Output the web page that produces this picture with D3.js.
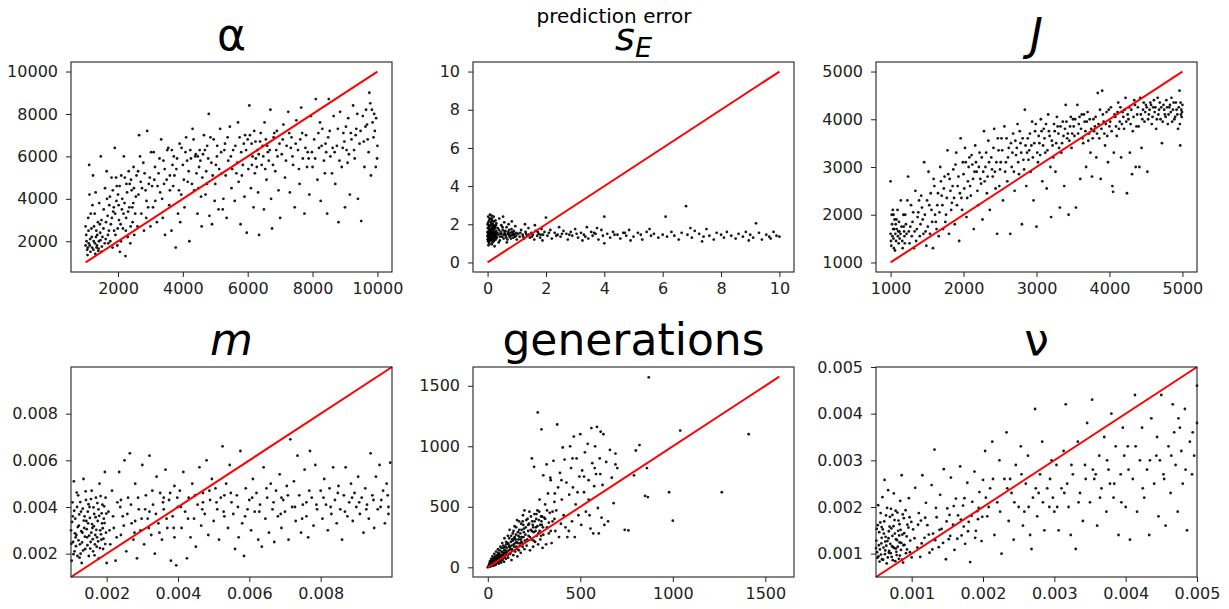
<!DOCTYPE html>
<html>
<head>
<meta charset="utf-8">
<script src="https://cdn.jsdelivr.net/npm/d3@7"></script>
<style>
  body { margin: 0; background: #fff; }
  svg { display: block; font-family: "DejaVu Sans", sans-serif; }
</style>
</head>
<body>
<div id="chart"></div>
<script>
// true value vs predicted value
const alphaPts = [
  [1000,1800],[1020,2300],[1050,1600],[1080,3100],[1100,1900],[1120,4200],[1150,1500],[1180,2600],[1200,1700],[1230,5100],
  [1250,2000],[1280,3300],[1300,1400],[1320,2200],[1350,1800],[1380,2900],[1400,1650],[1420,3800],[1450,2400],[1470,6000],
  [1500,1750],[1000,2700],[1060,1350],[1140,2100],[1210,3700],[1330,2500],[1460,2050],[1110,5600],[1390,1550],[1490,3000],
  [1550,2600],[1600,4500],[1620,2100],[1680,3200],[1700,1900],[1750,4100],[1780,2800],[1800,5000],[1830,1700],[1870,3600],
  [1900,6400],[1920,2300],[1950,3900],[1980,1800],[2000,4200],[2030,3000],[2060,1500],[2100,5100],[2120,3500],[2150,2600],
  [2180,6000],[2200,3800],[2230,1300],[2260,4700],[2300,2200],[2330,5300],[2350,3600],[2380,1900],[2420,4400],[2450,2900],
  [2480,5500],[2500,2300],[1650,5300],[1720,2500],[1850,3400],[1960,4600],[2080,2800],[2250,3100],[2400,4900],[2470,3800],
  [2550,4100],[2600,2700],[2650,7000],[2700,4800],[2720,3300],[2780,5700],[2800,2500],[2850,4400],[2900,7200],[2930,3600],
  [2980,5000],[3000,2700],[3050,4600],[3100,6200],[3150,3900],[3200,2900],[3250,5200],[3300,4300],[3330,6800],[3380,3100],
  [3400,5800],[3450,2300],[3500,4900],[3550,6400],[3580,3700],[3600,5100],[3650,2500],[3700,4600],[3720,6000],[3780,1700],
  [3800,5400],[3850,3300],[3900,6600],[3950,4200],[4000,5600],[2620,5300],[2870,3100],[3120,4900],[3420,4700],[3680,5600],
  [3920,2900],[4050,3600],[4100,6900],[4150,4800],[4200,2000],[4250,5900],[4300,7300],[4350,4400],[4400,6100],[4450,3300],
  [4500,5500],[4520,6300],[4580,2700],[4600,5000],[4650,7000],[4700,4200],[4750,6500],[4800,8000],[4820,3200],[4880,5700],
  [4900,2800],[4950,6800],[5000,4700],[5050,6000],[5100,3500],[5150,7300],[5200,5200],[5250,4000],[5300,6600],[5350,3100],
  [5400,5800],[5450,7400],[5500,4500],[4180,5300],[4480,4500],[4720,5300],[5020,5600],[5280,6300],[4380,6000],[4620,6100],
  [4980,3900],[5550,6300],[5600,3900],[5650,5200],[5700,7600],[5720,4800],[5780,2800],[5800,6200],[5850,5600],[5900,4100],
  [5920,7000],[5970,2400],[6000,6800],[6020,5400],[6050,8400],[6100,4500],[6120,6600],[6180,3600],[6200,7200],[6250,5900],
  [6300,6300],[6320,4300],[6350,2300],[6400,7100],[6430,5600],[6480,6000],[6500,3500],[6520,7600],[6580,4900],[6600,6500],
  [6650,5800],[6700,8200],[6720,4000],[6750,2600],[6800,6900],[6850,5300],[6900,7200],[6950,4400],[7000,3100],[6150,6000],
  [6380,6700],[6620,6200],[6880,6300],[5880,6600],[6220,5200],[7050,6100],[7100,7500],[7150,5000],[7200,6500],[7250,8100],
  [7300,4300],[7350,6900],[7400,5600],[7450,3600],[7500,7700],[7550,6300],[7600,4700],[7650,8300],[7700,5900],[7750,3300],
  [7800,7000],[7850,6200],[7900,4200],[7950,7900],[8000,5500],[8050,6800],[8100,8700],[8150,4900],[8200,6400],[8250,3900],
  [8300,7300],[8350,5800],[8400,6600],[8450,3300],[8500,8700],[7330,6400],[7620,6800],[7880,5900],[8180,7100],[8420,6200],
  [8550,6000],[8600,5200],[8650,7900],[8700,4700],[8750,6500],[8800,2900],[8850,8100],[8900,5500],[8950,7100],[9000,3600],
  [9050,6300],[9100,7800],[9150,4200],[9200,6800],[9250,8400],[9300,5900],[9350,7300],[9400,4000],[9450,6600],[9500,2950],
  [9550,7900],[9600,5500],[9650,8200],[9700,6800],[9750,9000],[9800,5100],[9850,7600],[9900,8000],[9950,5500],[10000,6500],
  [8620,6400],[8980,6700],[9330,7000],[9680,7500],[9920,7200],[9780,8500],[9120,6100],
  [1030,2000],[1070,1700],[1090,2500],[1130,1800],[1160,3300],[1190,2200],[1240,1600],[1260,2700],[1290,1900],[1310,4300],
  [1340,1700],[1360,2300],[1410,2000],[1440,2800],[1480,1500],[1520,2200],[1560,3500],[1590,1900],[1630,2900],[1660,4000],
  [1690,2300],[1730,3700],[1760,2000],[1810,3100],[1840,4400],[1880,2500],[1910,3300],[1940,5000],[1990,2600],[2020,3700],
  [2050,4600],[2090,2000],[2130,4000],[2170,3300],[2210,5000],[2240,2500],[2280,4300],[2310,3400],[2360,4700],[2390,2700],
  [2440,3600],[2490,4500],[2530,3300],[2570,5100],[2630,4200],[2680,6000],[2740,4500],[2820,5200],[2880,3900],[2950,4700],
  [3020,6200],[3080,3600],[3140,5500],[3220,4600],[3280,5900],[3360,4000],[3440,5400],[3520,6300],[3600,4400],[3660,6300],
  [3740,5100],[3820,5900],[3880,4400],[3960,6400],[4030,4900],[4080,6200],[4130,5800],[4230,6300],[4280,4700],[4330,6800],
  [4420,5200],[4460,6000],[4540,5800],[4560,4100],[4680,6300],[4740,4700],[4780,5900],[4850,6900],[4920,5100],[5060,6500],
  [5120,5400],[5180,6200],[5230,3500],[5320,5100],[5380,6900],[5480,6000],[5520,5400],[5620,6500],[5680,5700],[5750,6900],
  [5820,5100],[5950,6300],[6070,7000],[6130,5600],[6240,6700],[6280,5500],[6340,6100],[6460,6500],[6540,5400],[6560,6800],
  [6680,6300],[6780,5600],[6820,7100],[6920,6000],[6980,6600],[7080,6800],[7180,5800],[7280,7100],[7380,6000],[7480,6600],
  [7580,5400],[7680,7100],[7780,6400],[7830,5500],[7980,6200],[8080,5900],[8230,7600],[8280,6500],[8380,5200],[8480,6900],
  [8530,7200],[8680,6200],[8780,7300],[8830,5800],[8930,6400],[9030,7400],[9080,5700],[9180,7100],[9280,6300],[9380,8000],
  [9480,7200],[9580,6700],[9630,7400],[9730,6200],[9830,8200],[9880,6900],[9960,7800],[9990,5900]
];

const sEPts = [
  [0,1.2],[0,1.6],[0,2.0],[0,1.4],[0.02,2.4],[0.02,1.1],[0.03,1.8],[0.04,1.3],[0.05,2.2],[0.05,1.5],
  [0.06,1.0],[0.07,1.7],[0.08,2.5],[0.08,1.4],[0.09,1.9],[0.1,1.2],[0.1,1.6],[0.11,2.1],[0.12,1.35],[0.13,1.75],
  [0.14,0.95],[0.15,2.3],[0.15,1.55],[0.16,1.25],[0.17,1.85],[0.18,2.0],[0.19,1.45],[0.2,1.1],[0.2,1.7],[0.21,2.4],
  [0.22,1.3],[0.23,1.6],[0.24,0.85],[0.25,1.9],[0.26,1.4],[0.27,2.2],[0.28,1.2],[0.29,1.65],[0.3,1.5],[0.3,2.05],
  [0.01,1.55],[0.04,1.95],[0.06,1.25],[0.09,2.3],[0.12,1.65],[0.17,1.05],[0.22,2.15],[0.27,1.55],[0.03,0.9],[0.14,2.45],
  [0.01,1.35],[0.03,1.45],[0.05,1.75],[0.07,1.15],[0.09,1.6],[0.11,1.45],[0.13,2.25],[0.16,1.5],[0.19,1.8],[0.23,1.35],
  [0.005,1.8],[0.015,1.2],[0.025,2.1],[0.035,1.6],[0.045,1.1],[0.055,1.9],[0.065,1.45],[0.075,2.3],[0.085,1.25],[0.095,1.7],
  [0.105,1.5],[0.115,1.15],[0.125,2.0],[0.135,1.4],[0.145,1.8],[0.155,1.3],[0.165,2.15],[0.175,1.6],[0.185,1.2],[0.195,1.95],
  [0.205,1.45],[0.215,1.75],[0.225,1.15],[0.235,1.9],[0.245,1.5],[0.255,1.3],[0.265,1.8],[0.275,1.45],[0.285,1.95],[0.295,1.35],
  [0.32,1.3],[0.35,1.8],[0.37,1.45],[0.4,2.3],[0.42,1.15],[0.45,1.6],[0.47,1.95],[0.5,1.35],[0.52,1.7],[0.55,1.25],
  [0.57,2.1],[0.6,1.5],[0.62,1.4],[0.65,1.85],[0.68,1.2],[0.7,1.6],[0.72,2.0],[0.75,1.35],[0.78,1.55],[0.8,1.25],
  [0.82,1.75],[0.85,1.45],[0.88,1.3],[0.9,1.65],[0.93,1.5],[0.95,1.9],[0.98,1.4],[1.0,1.2],[0.38,1.05],[0.53,2.4],
  [0.66,1.05],[0.83,2.15],[0.44,1.5],[0.58,1.6],[0.73,1.45],[0.87,1.55],
  [0.34,1.55],[0.39,1.7],[0.43,1.35],[0.48,1.5],[0.51,1.85],[0.56,1.45],[0.61,1.65],[0.64,1.3],[0.69,1.5],[0.74,1.7],
  [0.79,1.4],[0.84,1.6],[0.89,1.45],[0.94,1.35],[0.99,1.55],
  [1.05,1.5],[1.1,1.35],[1.15,1.7],[1.2,1.45],[1.25,1.25],[1.3,1.6],[1.35,1.4],[1.4,1.8],[1.45,1.3],[1.5,1.55],
  [1.55,1.45],[1.6,1.2],[1.65,1.65],[1.7,1.4],[1.75,1.5],[1.8,1.3],[1.85,1.75],[1.9,1.45],[1.95,1.6],[2.0,2.35],
  [1.28,2.0],[1.62,1.95],[1.88,1.15],[1.12,1.55],[1.22,1.35],[1.32,1.5],[1.42,1.45],[1.52,1.35],[1.72,1.6],[1.82,1.45],
  [2.05,1.4],[2.15,1.7],[2.2,1.25],[2.3,1.55],[2.4,1.45],[2.5,1.35],[2.6,1.65],[2.7,1.5],[2.75,1.2],[2.85,1.6],
  [2.9,1.4],[3.0,1.75],[3.1,1.3],[3.2,1.55],[3.3,1.45],[3.4,1.85],[3.45,1.25],[3.55,1.6],[3.6,1.4],[3.7,1.5],
  [3.8,1.2],[3.9,1.7],[4.0,2.4],[4.0,1.0],[2.45,1.85],[3.25,1.15],[3.75,1.8],
  [2.1,1.55],[2.35,1.4],[2.55,1.5],[2.8,1.45],[3.05,1.5],[3.35,1.35],[3.65,1.55],[3.95,1.4],[4.35,1.45],[4.7,1.55],
  [4.1,1.5],[4.2,1.3],[4.3,1.6],[4.45,1.45],[4.55,1.25],[4.65,1.55],[4.75,1.4],[4.85,1.7],[5.0,1.35],[5.15,1.55],
  [5.3,1.2],[5.45,1.6],[5.6,1.4],[5.7,1.5],[5.85,1.3],[6.0,1.45],[4.9,1.15],[5.55,1.75],[5.25,1.45],
  [6.1,2.4],[6.15,1.35],[6.3,1.6],[6.4,1.4],[6.55,1.2],[6.65,1.55],[6.8,2.95],[6.85,1.45],[7.0,1.3],[7.1,1.65],
  [7.25,1.5],[7.4,1.35],[7.5,1.75],[7.6,1.4],[7.75,1.2],[7.85,1.55],[8.0,1.45],[6.95,1.8],[7.35,1.1],
  [8.1,1.3],[8.2,1.6],[8.35,1.4],[8.5,1.25],[8.6,1.5],[8.75,1.35],[8.85,1.6],[9.0,1.45],[9.1,1.3],[9.2,2.05],
  [9.3,1.55],[9.4,1.2],[9.55,1.45],[9.65,1.35],[9.8,1.6],[9.9,1.4],[10.0,1.35],[8.95,1.15],[9.7,1.25]
];

const jPts = [
  [1000,1600],[1000,2700],[1010,1350],[1020,1800],[1030,2100],[1040,1500],[1050,1700],[1060,1250],[1080,1900],[1100,1550],
  [1120,1650],[1140,2300],[1160,1450],[1180,1750],[1200,2000],[1220,1600],[1240,2800],[1260,1400],[1280,2200],[1300,1850],
  [1320,1300],[1340,2500],[1360,1700],[1380,2050],[1400,1550],[1420,2400],[1440,1900],[1460,3100],[1480,1650],[1500,2300],
  [1070,1800],[1110,1400],[1190,1550],[1270,1750],[1350,1450],[1430,2150],[1490,1350],[1040,2000],
  [1520,2900],[1540,1600],[1560,2100],[1580,1300],[1600,2600],[1620,1850],[1640,2200],[1660,1550],[1680,3000],[1700,2400],
  [1720,1700],[1740,2800],[1760,2000],[1780,3350],[1800,1600],[1820,2500],[1840,2250],[1860,2950],[1880,1800],[1900,3300],
  [1920,2600],[1940,1450],[1960,3600],[1980,2100],[2000,2850],[2020,3400],[2040,1950],[2060,2700],[2080,3200],[2100,2400],
  [2120,3050],[2140,1700],[2160,3450],[2180,2900],[2200,2200],[2220,3300],[2240,2650],[2260,1900],[2280,3750],[2300,3000],
  [2320,2450],[2340,3550],[2360,2100],[2380,3200],[2400,2800],[2420,3800],[2440,2550],[2460,1600],[2480,3350],[2500,2950],
  [1650,2450],[1810,2750],[1970,2350],[2130,2750],[2290,2700],[2450,3100],
  [2520,3600],[2540,2300],[2560,3850],[2580,3100],[2600,2700],[2620,3400],[2640,1600],[2660,3000],[2680,3700],[2700,2500],
  [2720,3250],[2740,3900],[2760,2850],[2780,3500],[2800,1800],[2820,3150],[2840,4200],[2860,2600],[2880,3600],[2900,3350],
  [2920,2900],[2940,3950],[2960,2300],[2980,3750],[3000,1750],[3020,3100],[3040,3500],[3060,4000],[3080,2700],[3100,3800],
  [3120,3300],[3140,2550],[3160,4100],[3180,3650],[3200,1950],[3220,3450],[3240,3900],[3260,2900],[3280,4050],[3300,3700],
  [3320,2150],[3340,3300],[3360,3950],[3380,2600],[3400,4300],[3420,3600],[3440,2000],[3460,3850],[3480,3400],[3500,4000],
  [2710,3550],[2870,3300],[3010,3300],[3190,3000],[3350,3500],
  [3520,3650],[3540,2150],[3560,4300],[3580,3900],[3600,2750],[3620,4100],[3640,3500],[3660,3950],[3680,3000],[3700,4150],
  [3720,3700],[3740,3300],[3760,2800],[3780,4000],[3800,3850],[3820,3200],[3840,4550],[3860,3600],[3880,2750],[3900,4600],
  [3920,3950],[3940,3450],[3960,4150],[3980,3100],[4000,3850],[4020,4250],[4040,2600],[4060,3300],[4080,4050],[4100,3650],
  [4120,4350],[4140,3950],[4160,3200],[4180,4150],[4200,3800],[4220,4450],[4240,2450],[4260,4000],[4280,3300],[4300,4200],
  [4320,3750],[4340,4400],[4360,3000],[4380,4100],[4400,3850],[4420,4450],[4440,3400],[4460,4200],[4480,3950],[4500,4300],
  [4050,2480],[4310,2850],[4410,3000],
  [4520,2900],[4540,4100],[4560,4350],[4580,3900],[4600,4250],[4620,4150],[4640,3800],[4660,4450],[4680,4200],[4700,4000],
  [4720,3500],[4740,4300],[4760,4100],[4780,4400],[4800,3900],[4820,4250],[4840,4150],[4860,3950],[4880,4350],[4900,4050],
  [4920,4200],[4940,3800],[4960,4600],[4970,3450],[4980,4100],[5000,4300],[4990,4050],[4650,4000],[4850,4450],[4750,4200],
  [1005,1450],[1015,2000],[1025,1550],[1035,1700],[1045,1300],[1055,1900],[1065,1600],[1075,1450],[1085,1700],[1095,2100],
  [1105,1650],[1115,1850],[1125,1500],[1135,1600],[1150,1750],[1165,1300],[1175,2000],[1185,1650],[1195,1400],[1210,1800],
  [1230,2300],[1250,1650],[1290,1550],[1310,2050],[1330,1650],[1370,1950],[1390,2300],[1410,1800],[1450,1600],[1470,2000],
  [1510,1750],[1530,2200],[1550,2450],[1570,1850],[1590,2750],[1610,2000],[1630,1700],[1670,2050],[1690,2700],[1710,2200],
  [1730,2550],[1750,1850],[1770,2350],[1790,2850],[1830,2100],[1850,2600],[1870,2350],[1890,3050],[1910,2200],[1930,2800],
  [1950,2450],[1990,3100],[2010,2550],[2030,3100],[2050,2350],[2070,3000],[2090,2600],[2110,3250],[2150,2900],[2170,3100],
  [2190,2500],[2210,3000],[2230,2750],[2250,3200],[2270,2900],[2310,3300],[2330,2800],[2350,3100],[2390,2950],[2410,3400],
  [2430,2900],[2470,3600],[2490,2600],[2510,3100],[2530,3350],[2570,2900],[2590,3600],[2610,3200],[2650,3500],[2670,3300],
  [2690,2900],[2730,3400],[2750,3100],[2770,3750],[2790,3300],[2810,3600],[2830,2950],[2850,3450],[2890,3150],[2910,3700],
  [2930,3450],[2950,3200],[2970,3500],[2990,3900],[3030,3650],[3050,3250],[3070,3750],[3090,3450],[3110,3600],[3130,3900],
  [3150,3350],[3170,3750],[3210,3550],[3230,3200],[3250,3750],[3270,3500],[3290,3850],[3310,3400],[3330,3850],[3370,3650],
  [3390,3800],[3410,3950],[3430,3700],[3450,3550],[3470,4050],[3490,3700],[3510,3850],[3530,4000],[3570,3700],[3590,4050],
  [3610,3800],[3630,3600],[3650,4100],[3670,3750],[3690,3950],[3710,3550],[3730,4000],[3750,3800],[3770,3600],[3790,3750],
  [3810,4050],[3830,3700],[3850,3900],[3870,4200],[3890,3800],[3910,4100],[3930,3700],[3950,3900],[3970,3650],[3990,4200],
  [4010,3950],[4030,3750],[4070,4100],[4090,3850],[4110,4150],[4130,3800],[4150,4250],[4170,3900],[4190,4050],[4210,4200],
  [4230,3950],[4250,4100],[4270,4250],[4290,3900],[4330,4050],[4350,4300],[4370,3850],[4390,4250],[4430,4100],[4450,4000],
  [4470,4350],[4490,4150],[4510,4250],[4530,4000],[4550,4200],[4570,4300],[4590,4050],[4610,4400],[4630,4250],[4670,4100],
  [4690,4350],[4710,4250],[4730,3950],[4770,4050],[4790,4250],[4810,4100],[4830,4300],[4870,4200],[4890,4000],[4910,4350],
  [4930,4100],[4950,4250],[4965,3900],[4975,4350],[4985,4200],[4995,4150]
];

const mPts = [
  [0.00100,0.0030],[0.00102,0.0017],[0.00104,0.0042],[0.00106,0.0025],[0.00108,0.0051],[0.0011,0.0021],[0.00112,0.0035],
  [0.00115,0.0028],[0.00118,0.0019],[0.0012,0.0045],[0.00122,0.0032],[0.00125,0.0024],[0.00128,0.0038],[0.0013,0.0016],
  [0.00132,0.0029],[0.00135,0.0052],[0.00138,0.0036],[0.0014,0.0022],[0.00142,0.0043],[0.00145,0.0027],[0.00148,0.0033],
  [0.0015,0.0019],[0.00152,0.0040],[0.00155,0.0025],[0.00158,0.0047],[0.0016,0.0031],[0.00162,0.0021],[0.00165,0.0037],
  [0.00168,0.0028],[0.0017,0.0044],[0.00172,0.0023],[0.00175,0.0034],[0.00178,0.0018],[0.0018,0.0050],[0.00182,0.0030],
  [0.00185,0.0026],[0.00188,0.0041],[0.0019,0.0022],[0.00192,0.0035],[0.00195,0.0055],[0.00198,0.0029],[0.002,0.0016],
  [0.00105,0.0036],[0.00117,0.0040],[0.00127,0.0020],[0.00137,0.0031],[0.00147,0.0038],[0.00157,0.0029],[0.00167,0.0024],
  [0.00177,0.0039],[0.00187,0.0033],[0.00197,0.0044],[0.00113,0.0027],[0.00143,0.0034],[0.00173,0.0027],
  [0.00101,0.00243],[0.00103,0.00336],[0.00107,0.00198],[0.00109,0.00384],[0.00111,0.00287],[0.00114,0.00232],
  [0.00116,0.00462],[0.00119,0.00314],[0.00121,0.00257],[0.00123,0.00368],[0.00124,0.00183],[0.00126,0.00421],
  [0.00129,0.00296],[0.00131,0.00248],[0.00133,0.00393],[0.00134,0.00214],[0.00136,0.00342],[0.00139,0.00273],
  [0.00141,0.00467],[0.00144,0.00305],[0.00146,0.00236],[0.00149,0.00412],[0.00151,0.00277],[0.00153,0.00353],
  [0.00154,0.00222],[0.00156,0.00434],[0.00159,0.00327],[0.00161,0.00262],[0.00163,0.00398],[0.00164,0.00318],
  [0.00166,0.00193],[0.00169,0.00356],[0.00171,0.00302],[0.00174,0.00417],[0.00176,0.00253],[0.00179,0.00362],
  [0.00181,0.00224],[0.00183,0.00447],[0.00184,0.00283],[0.00186,0.00373],[0.00189,0.00309],[0.00191,0.00264],
  [0.00193,0.00403],[0.00194,0.00331],[0.00196,0.00241],[0.00199,0.00372],
  [0.00205,0.0038],[0.0021,0.0024],[0.00215,0.0047],[0.0022,0.0031],[0.00225,0.0017],[0.0023,0.0042],[0.00235,0.0055],
  [0.0024,0.0028],[0.00245,0.0036],[0.0025,0.0060],[0.00255,0.0021],[0.0026,0.0044],[0.00265,0.0063],[0.0027,0.0033],
  [0.00275,0.0026],[0.0028,0.0050],[0.00285,0.0018],[0.0029,0.0039],[0.00295,0.0030],[0.003,0.0058],[0.00305,0.0024],
  [0.0031,0.0045],[0.00315,0.0035],[0.0032,0.0062],[0.00325,0.0028],[0.0033,0.0041],[0.00335,0.0020],[0.0034,0.0053],
  [0.00345,0.0033],[0.0035,0.0046],[0.00355,0.0026],[0.0036,0.0039],[0.00365,0.0056],[0.0037,0.0031],[0.00375,0.0043],
  [0.0038,0.0017],[0.00385,0.0036],[0.0039,0.0049],[0.00395,0.0015],[0.004,0.0040],[0.0024,0.0043],[0.0028,0.0034],
  [0.0032,0.0038],[0.0036,0.0044],[0.0039,0.0027],
  [0.00208,0.0030],[0.00218,0.0036],[0.00228,0.0027],[0.00238,0.0040],[0.00248,0.0032],[0.00258,0.0037],[0.00268,0.0041],
  [0.00278,0.0029],[0.00288,0.0044],[0.00298,0.0035],[0.00308,0.0039],[0.00318,0.0031],[0.00328,0.0047],[0.00338,0.0037],
  [0.00348,0.0029],[0.00358,0.0042],[0.00368,0.0035],[0.00378,0.0046],[0.00388,0.0031],[0.00398,0.0044],
  [0.00405,0.0047],[0.0041,0.0031],[0.00415,0.0055],[0.0042,0.0038],[0.00425,0.0018],[0.0043,0.0044],[0.00435,0.0027],
  [0.0044,0.0050],[0.00445,0.0035],[0.0045,0.0023],[0.00455,0.0041],[0.0046,0.0057],[0.00465,0.0032],[0.0047,0.0046],
  [0.00475,0.0037],[0.0048,0.0060],[0.00485,0.0028],[0.0049,0.0043],[0.00495,0.0052],[0.005,0.0034],[0.00505,0.0048],
  [0.0051,0.0039],[0.00515,0.0026],[0.0052,0.0044],[0.00525,0.0066],[0.0053,0.0036],[0.00535,0.0050],[0.0054,0.0031],
  [0.00545,0.0058],[0.0055,0.0042],[0.00555,0.0037],[0.0056,0.0022],[0.00565,0.0045],[0.0057,0.0027],[0.00575,0.0064],
  [0.0058,0.0033],[0.00585,0.0019],[0.0059,0.0048],[0.00595,0.0039],[0.006,0.0043],[0.0047,0.0042],[0.0053,0.0045],
  [0.00408,0.0040],[0.00428,0.0035],[0.00448,0.0045],[0.00468,0.0039],[0.00488,0.0047],[0.00508,0.0042],[0.00528,0.0038],
  [0.00548,0.0046],[0.00568,0.0040],[0.00588,0.0036],
  [0.00605,0.0030],[0.0061,0.0052],[0.00615,0.0038],[0.0062,0.0046],[0.00625,0.0026],[0.0063,0.0041],[0.00635,0.0023],
  [0.0064,0.0057],[0.00645,0.0035],[0.0065,0.0044],[0.00655,0.0029],[0.0066,0.0050],[0.00665,0.0039],[0.0067,0.0025],
  [0.00675,0.0047],[0.0068,0.0036],[0.00685,0.0054],[0.0069,0.0031],[0.00695,0.0043],[0.007,0.0038],[0.00705,0.0049],
  [0.0071,0.0026],[0.00715,0.0069],[0.0072,0.0040],[0.00725,0.0051],[0.0073,0.0034],[0.00735,0.0062],[0.0074,0.0045],
  [0.00745,0.0029],[0.0075,0.0041],[0.00755,0.0056],[0.0076,0.0036],[0.00765,0.0027],[0.0077,0.0064],[0.00775,0.0044],
  [0.0078,0.0032],[0.00785,0.0058],[0.0079,0.0039],[0.008,0.0047],[0.0069,0.0044],[0.0076,0.0042],
  [0.00608,0.0044],[0.00628,0.0038],[0.00648,0.0048],[0.00668,0.0042],[0.00688,0.0037],[0.00708,0.0045],[0.00728,0.0040],
  [0.00748,0.0035],[0.00768,0.0047],[0.00788,0.0041],
  [0.00805,0.0035],[0.0081,0.0052],[0.00815,0.0041],[0.0082,0.0030],[0.00825,0.0048],[0.0083,0.0037],[0.00835,0.0057],
  [0.0084,0.0043],[0.00845,0.0033],[0.0085,0.0049],[0.00855,0.0039],[0.0086,0.0026],[0.00865,0.0045],[0.0087,0.0057],
  [0.00875,0.0036],[0.0088,0.0042],[0.00885,0.0050],[0.0089,0.0034],[0.00895,0.0046],[0.009,0.0040],[0.00905,0.0053],
  [0.0091,0.0037],[0.00915,0.0044],[0.0092,0.0029],[0.00925,0.0048],[0.0093,0.0041],[0.00935,0.0035],[0.0094,0.0063],
  [0.00945,0.0045],[0.0095,0.0031],[0.00955,0.0053],[0.0096,0.0039],[0.00965,0.0058],[0.0097,0.0043],[0.00975,0.0047],
  [0.0098,0.0033],[0.00985,0.0050],[0.0099,0.0040],[0.00995,0.0059],[0.0099,0.0037],
  [0.00808,0.0044],[0.00828,0.0040],[0.00848,0.0046],[0.00868,0.0038],[0.00888,0.0044],[0.00908,0.0042],[0.00928,0.0039],
  [0.00948,0.0043],[0.00968,0.0040],[0.00988,0.0045]
];

const genPts = [
  [0,0],[5,10],[8,30],[10,5],[12,50],[15,20],[18,70],[20,10],[22,40],[25,90],[28,25],[30,60],[32,15],[35,110],[38,45],
  [40,75],[42,20],[45,130],[48,55],[50,35],[52,95],[55,150],[58,70],[60,30],[62,115],[65,50],[68,170],[70,85],[72,40],
  [75,130],[78,200],[80,60],[82,105],[85,160],[88,45],[90,240],[92,90],[95,140],[98,70],[100,190],[15,45],[30,30],[45,80],
  [60,100],[75,75],[90,120],[100,110],[25,55],[55,60],[85,95],
  [3,5],[6,15],[9,8],[11,25],[14,12],[16,35],[19,20],[21,50],[24,30],[26,15],[29,45],[31,75],[34,35],[36,55],[39,25],
  [41,90],[44,50],[46,65],[49,100],[51,40],[54,80],[56,120],[59,55],[61,85],[64,140],[66,70],[69,105],[71,55],[74,160],
  [76,95],[79,125],[81,75],[84,180],[86,110],[89,140],[91,80],[94,170],[96,120],[99,210],
  [105,130],[108,260],[110,80],[115,170],[118,310],[120,110],[125,210],[128,60],[130,150],[135,280],[138,100],[140,190],
  [145,340],[148,130],[150,230],[155,170],[158,390],[160,90],[165,260],[168,140],[170,310],[175,200],[178,120],[180,360],
  [185,250],[188,170],[190,430],[195,290],[198,150],[200,220],[112,190],[132,230],[152,270],[172,250],[192,350],[142,240],
  [162,200],[182,210],[122,150],[198,470],
  [102,160],[106,100],[109,200],[113,140],[116,240],[119,170],[123,120],[126,260],[129,180],[133,140],[136,220],[139,300],
  [143,170],[146,250],[149,200],[153,330],[156,210],[159,150],[163,290],[166,230],[169,380],[173,180],[176,280],[179,230],
  [183,310],[186,200],[189,380],[193,250],[196,320],
  [205,330],[210,180],[215,400],[220,260],[225,460],[228,140],[232,310],[236,230],[240,380],[245,170],[248,290],[252,440],
  [256,210],[260,330],[264,260],[268,470],[270,1280],[272,190],[276,390],[280,300],[284,230],[288,420],[292,350],[296,160],
  [300,270],[218,350],[246,330],[262,400],[290,380],[238,900],[250,830],[280,560],[290,1140],[300,760],
  [203,270],[208,390],[213,230],[218,300],[223,360],[228,250],[233,420],[238,300],[243,350],[248,220],[253,380],[258,300],
  [263,440],[268,340],[273,280],[278,460],[283,350],[288,260],[293,420],[298,330],[310,400],[320,470],[330,370],[340,300],
  [350,460],[360,400],
  [305,410],[310,520],[315,190],[320,330],[325,610],[330,280],[335,450],[340,720],[345,200],[350,380],[355,880],[360,540],
  [365,300],[370,470],[375,1180],[380,660],[385,250],[390,780],[395,360],[400,560],[405,990],[410,430],[415,890],[420,330],
  [425,700],[430,250],[440,600],[445,1000],[450,820],[455,380],[460,660],[465,1080],[470,250],[475,520],[480,900],[485,620],
  [490,430],[495,750],[500,1100],[318,850],[338,740],[362,610],[398,720],[438,300],[458,900],
  [505,350],[510,800],[520,620],[525,950],[530,460],[540,1020],[545,720],[550,430],[555,320],[560,1150],[565,860],[570,280],
  [575,670],[580,1000],[585,770],[590,1160],[595,490],[600,280],[605,900],[610,1120],[615,410],[620,680],[625,1100],[630,350],
  [640,870],[650,380],[660,970],[670,740],[680,530],[690,940],[690,850],[700,820],[520,750],[545,560],[578,820],[608,770],
  [740,310],[760,305],[790,760],[800,965],[820,1010],[850,590],[860,820],[865,580],[870,1570],[980,620],[1000,385],
  [1040,1130],[1265,620],[1410,1100]
];

const nuPts = [
  [0.0005,0.00112],[0.00051,0.00153],[0.00052,0.00091],[0.00053,0.00204],[0.00054,0.00118],[0.00055,0.00083],
  [0.00056,0.00167],[0.00057,0.00098],[0.00058,0.00134],[0.00059,0.00221],[0.0006,0.00087],[0.00061,0.00143],
  [0.00062,0.00258],[0.00063,0.00107],[0.00064,0.00182],[0.00065,0.00079],[0.00066,0.00127],[0.00067,0.00236],
  [0.00068,0.00102],[0.00069,0.00158],[0.0007,0.00121],[0.00071,0.00196],[0.00072,0.00093],[0.00073,0.00138],
  [0.00074,0.00114],[0.00075,0.00229],[0.00076,0.00172],[0.00077,0.00084],[0.00078,0.00131],[0.00079,0.00097],
  [0.0008,0.00188],[0.00081,0.00149],[0.00082,0.00089],[0.00083,0.00124],[0.00084,0.00213],[0.00085,0.00108],
  [0.00086,0.00268],[0.00087,0.00141],[0.00088,0.00081],[0.00089,0.00176],[0.0009,0.00119],[0.00092,0.00101],
  [0.00094,0.00162],[0.00096,0.00219],[0.00098,0.00128],[0.001,0.00092],[0.00058,0.00157],[0.00063,0.00126],
  [0.00068,0.00148],[0.00073,0.00183],[0.00078,0.00111],[0.00083,0.00163],[0.00093,0.00137],[0.00097,0.00178],
  [0.000505,0.00128],[0.000515,0.00103],[0.000525,0.00161],[0.000535,0.00094],[0.000545,0.00146],[0.000555,0.00109],
  [0.000565,0.00187],[0.000575,0.00122],[0.000585,0.00088],[0.000595,0.00152],[0.000605,0.00113],[0.000615,0.00169],
  [0.000625,0.00099],[0.000635,0.00136],[0.000645,0.00117],[0.000655,0.00198],[0.000665,0.00092],[0.000675,0.00133],
  [0.000685,0.00106],[0.000695,0.00179],[0.000705,0.00101],[0.000715,0.00154],[0.000725,0.00116],[0.000735,0.00086],
  [0.000745,0.00159],[0.000755,0.00112],[0.000765,0.00143],[0.000775,0.00192],[0.000785,0.00104],[0.000795,0.00129],
  [0.000805,0.00115],[0.000815,0.00171],[0.000825,0.00139],[0.000835,0.00096],[0.000845,0.00151],[0.000855,0.00123],
  [0.000865,0.00087],[0.000875,0.00184],[0.000885,0.00118],[0.000895,0.00144],[0.000915,0.00193],[0.000935,0.00109],
  [0.000955,0.00156],[0.000975,0.00103],[0.000995,0.00168],
  [0.00102,0.00152],[0.00105,0.00241],[0.00108,0.00113],[0.0011,0.00187],[0.00112,0.00093],[0.00115,0.00268],
  [0.00118,0.00134],[0.0012,0.00209],[0.00122,0.00161],[0.00125,0.00102],[0.00128,0.00247],[0.0013,0.00143],
  [0.00132,0.00323],[0.00135,0.00178],[0.00138,0.00114],[0.0014,0.00226],[0.00142,0.00153],[0.00145,0.00281],
  [0.00148,0.00088],[0.0015,0.00197],[0.00152,0.00131],[0.00155,0.00263],[0.00158,0.00162],[0.0016,0.00108],
  [0.00162,0.00218],[0.00165,0.00182],[0.00168,0.00287],[0.0017,0.00139],[0.00172,0.00203],[0.00175,0.00121],
  [0.00178,0.00252],[0.0018,0.00168],[0.00182,0.00082],[0.00185,0.00211],[0.00188,0.00276],[0.0019,0.00149],
  [0.00192,0.00191],[0.00195,0.00232],[0.00198,0.00127],[0.002,0.00258],[0.00113,0.00171],[0.00133,0.00129],
  [0.00153,0.00183],[0.00173,0.00158],[0.00193,0.00174],
  [0.00104,0.00133],[0.00109,0.00162],[0.00114,0.00122],[0.00119,0.00177],[0.00124,0.00141],[0.00129,0.00109],
  [0.00134,0.00198],[0.00139,0.00151],[0.00144,0.00123],[0.00149,0.00169],[0.00154,0.00138],[0.00159,0.00202],
  [0.00164,0.00132],[0.00169,0.00173],[0.00174,0.00219],[0.00179,0.00148],[0.00184,0.00181],[0.00189,0.00134],
  [0.00194,0.00198],[0.00199,0.00179],
  [0.00203,0.0032],[0.00206,0.0018],[0.0021,0.0024],[0.00213,0.0034],[0.00216,0.0014],[0.0022,0.0021],[0.00223,0.0030],
  [0.00226,0.0010],[0.0023,0.0026],[0.00233,0.0036],[0.00236,0.0017],[0.0024,0.0023],[0.00243,0.0013],[0.00246,0.0029],
  [0.0025,0.0020],[0.00253,0.0033],[0.00256,0.0016],[0.0026,0.0025],[0.00263,0.0031],[0.00266,0.0014],[0.0027,0.0022],
  [0.00273,0.0041],[0.00276,0.0018],[0.0028,0.0027],[0.00283,0.0034],[0.00286,0.0015],[0.0029,0.0024],[0.00293,0.0020],
  [0.00296,0.0030],[0.003,0.0019],[0.00208,0.0020],[0.00238,0.0026],[0.00258,0.0019],[0.00278,0.0023],[0.00298,0.0022],
  [0.00268,0.0011],[0.00204,0.0022],[0.00214,0.0026],[0.00224,0.0019],[0.00234,0.0024],[0.00244,0.0021],[0.00254,0.0027],
  [0.00264,0.0020],[0.00274,0.0024],[0.00284,0.0021],[0.00294,0.0026],
  [0.00303,0.0029],[0.00306,0.0015],[0.0031,0.0024],[0.00313,0.0032],[0.00316,0.0042],[0.0032,0.0020],[0.00323,0.0014],
  [0.00326,0.0027],[0.0033,0.0011],[0.00333,0.0034],[0.00336,0.0023],[0.0034,0.0017],[0.00343,0.0029],[0.00346,0.0038],
  [0.0035,0.0021],[0.00353,0.0043],[0.00356,0.0026],[0.0036,0.0016],[0.00363,0.0031],[0.00366,0.0024],[0.0037,0.0035],
  [0.00373,0.0019],[0.00376,0.0028],[0.0038,0.0040],[0.00383,0.0022],[0.00386,0.0033],[0.0039,0.0014],[0.00393,0.0027],
  [0.00396,0.0037],[0.004,0.0020],[0.00318,0.0025],[0.00358,0.0027],[0.00378,0.0025],[0.00398,0.0031],
  [0.00304,0.0020],[0.00314,0.0023],[0.00324,0.0029],[0.00334,0.0021],[0.00344,0.0026],[0.00354,0.0028],[0.00364,0.0022],
  [0.00374,0.0030],[0.00384,0.0025],[0.00394,0.0021],
  [0.00403,0.0033],[0.00406,0.0013],[0.0041,0.0026],[0.00413,0.0044],[0.00416,0.0019],[0.0042,0.0030],[0.00423,0.0037],
  [0.00426,0.0022],[0.0043,0.0028],[0.00433,0.0014],[0.00436,0.0039],[0.0044,0.0025],[0.00443,0.0031],[0.00446,0.0018],
  [0.0045,0.0044],[0.00453,0.0027],[0.00456,0.0016],[0.0046,0.0033],[0.00463,0.0023],[0.00466,0.0042],[0.0047,0.0029],
  [0.00473,0.0019],[0.00476,0.0037],[0.0048,0.0025],[0.00483,0.0041],[0.00486,0.0015],[0.0049,0.0034],[0.00493,0.0027],
  [0.00496,0.0031],[0.005,0.0046],[0.005,0.0038],[0.00468,0.0036],[0.00448,0.0030],[0.00478,0.0032],
  [0.00404,0.0028],[0.00414,0.0033],[0.00424,0.0024],[0.00434,0.0030],[0.00444,0.0035],[0.00454,0.0026],[0.00464,0.0031],
  [0.00474,0.0039],[0.00484,0.0028],[0.00494,0.0036]
];

// identity line extent (min/max of true values) and axis limits
const alphaLine = [1000, 10000], alphaLim = [550, 10450], alphaTicks = [2000, 4000, 6000, 8000, 10000];
const sELine = [0, 10], sELim = [-0.5, 10.5], sETicks = [0, 2, 4, 6, 8, 10];
const jLine = [1000, 5000], jLim = [800, 5200], jTicks = [1000, 2000, 3000, 4000, 5000];
const mLine = [0.001, 0.01], mLim = [0.001, 0.01], mTicks = [0.002, 0.004, 0.006, 0.008];
const genLine = [0, 1575], genLim = [-80, 1655], genTicks = [0, 500, 1000, 1500];
const nuLine = [0.0005, 0.005], nuLim = [0.0005, 0.005], nuTicks = [0.001, 0.002, 0.003, 0.004, 0.005];

const panels = [
  { title: "α", pts: alphaPts, line: alphaLine, lim: alphaLim, ticks: alphaTicks, fmt: d3.format("d") },
  { title: "sE", pts: sEPts, line: sELine, lim: sELim, ticks: sETicks, fmt: d3.format("d") },
  { title: "J", pts: jPts, line: jLine, lim: jLim, ticks: jTicks, fmt: d3.format("d") },
  { title: "m", pts: mPts, line: mLine, lim: mLim, ticks: mTicks, fmt: d3.format(".3f") },
  { title: "generations", pts: genPts, line: genLine, lim: genLim, ticks: genTicks, fmt: d3.format("d") },
  { title: "ν", pts: nuPts, line: nuLine, lim: nuLim, ticks: nuTicks, fmt: d3.format(".3f") }
];

const W = 1229, H = 609;
const colX = [71, 473, 876];
const rowY = [62, 367];
const pw = 321, ph = 210;

const svg = d3.select("#chart").append("svg")
  .attr("width", W).attr("height", H)
  .attr("viewBox", [0, 0, W, H]);

svg.append("text")
  .attr("x", 614).attr("y", 23)
  .attr("text-anchor", "middle")
  .attr("font-size", 20)
  .attr("fill", "#000")
  .text("prediction error");

panels.forEach((p, i) => {
  const x0 = colX[i % 3], y0 = rowY[Math.floor(i / 3)];
  const g = svg.append("g").attr("transform", `translate(${x0},${y0})`);

  const x = d3.scaleLinear().domain(p.lim).range([0, pw]);
  const y = d3.scaleLinear().domain(p.lim).range([ph, 0]);

  g.append("g")
    .selectAll("circle")
    .data(p.pts)
    .join("circle")
    .attr("cx", d => x(d[0]))
    .attr("cy", d => y(d[1]))
    .attr("r", 1.4)
    .attr("fill", "#000")
    .attr("opacity", 0.9);

  g.append("line")
    .attr("x1", x(p.line[0])).attr("y1", y(p.line[0]))
    .attr("x2", x(p.line[1])).attr("y2", y(p.line[1]))
    .attr("stroke", "#f00")
    .attr("stroke-width", 2);

  const xAxis = g.append("g")
    .attr("transform", `translate(0,${ph})`)
    .call(d3.axisBottom(x).tickValues(p.ticks).tickFormat(p.fmt).tickSize(5).tickPadding(6).tickSizeOuter(0));
  const yAxis = g.append("g")
    .call(d3.axisLeft(y).tickValues(p.ticks).tickFormat(p.fmt).tickSize(5).tickPadding(8).tickSizeOuter(0));

  [xAxis, yAxis].forEach(a => {
    a.select(".domain").remove();
    a.attr("font-family", "DejaVu Sans").attr("font-size", 16);
    a.selectAll("text").attr("fill", "#222");
    a.selectAll("line").attr("stroke", "#222");
  });

  g.append("rect")
    .attr("width", pw).attr("height", ph)
    .attr("fill", "none")
    .attr("stroke", "#222")
    .attr("stroke-width", 1.1);

  // panel titles
  const t = g.append("text")
    .attr("x", pw / 2).attr("y", -12)
    .attr("text-anchor", "middle")
    .attr("font-size", 44)
    .attr("fill", "#000");
  if (p.title === "sE") {
    t.attr("font-size", 38);
    t.append("tspan").attr("font-style", "italic").text("s");
    t.append("tspan").attr("font-style", "italic").attr("font-size", 27).attr("dy", 7).text("E");
  } else if (p.title === "J" || p.title === "m") {
    t.attr("font-style", "italic").text(p.title);
  } else {
    t.text(p.title);
  }
});
</script>
</body>
</html>
